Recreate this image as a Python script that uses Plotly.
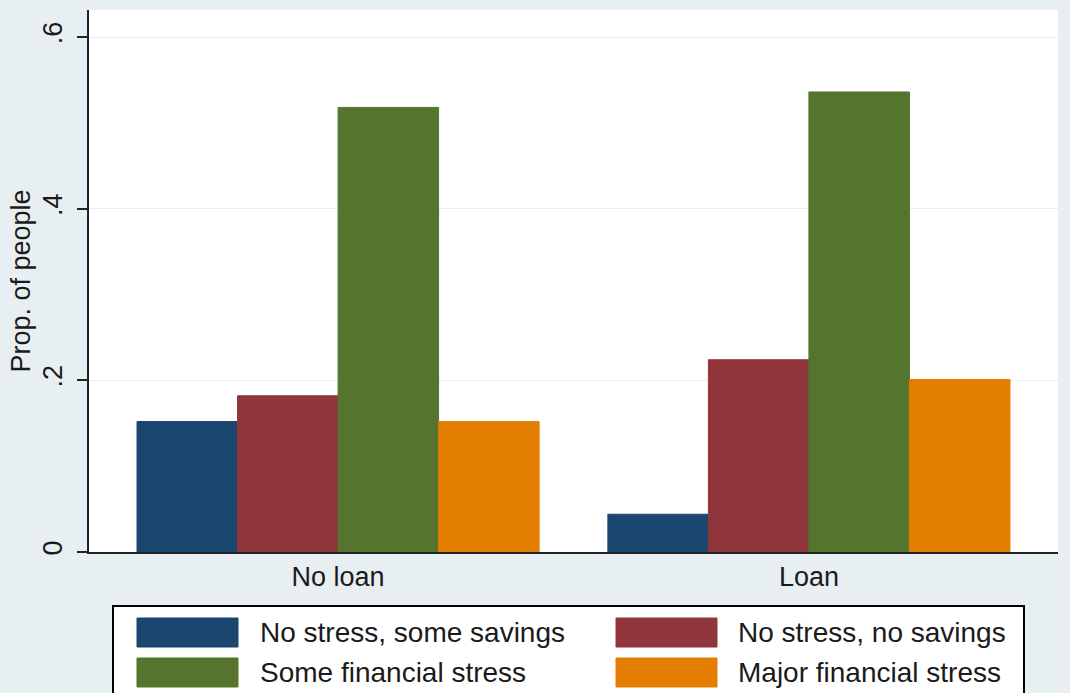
import plotly.graph_objects as go

categories = ["No loan", "Loan"]
series_names = ["No stress, some savings", "No stress, no savings",
                "Some financial stress", "Major financial stress"]
no_stress_some_savings = [0.152, 0.044]
no_stress_no_savings = [0.182, 0.224]
some_financial_stress = [0.518, 0.536]
major_financial_stress = [0.152, 0.201]
series_values = [no_stress_some_savings, no_stress_no_savings,
                 some_financial_stress, major_financial_stress]
colors = ["#1a476f", "#90353b", "#55752f", "#e37e00"]
y_tickvals = [0, 0.2, 0.4, 0.6]
y_ticktext = ["0", ".2", ".4", ".6"]

W, H = 1070, 693
L, R, T, B = 89, 12, 10, 141
PW, PH = W - L - R, H - T - B
FONT = "Liberation Sans, Arial, sans-serif"
BG = "#e8eff2"


def px_x(x):
    return (x - L) / PW


def px_y(y):
    return (H - B - y) / PH


fig = go.Figure()
for name, vals, c in zip(series_names, series_values, colors):
    fig.add_trace(go.Bar(x=categories, y=vals, name=name,
                         marker=dict(color=c, line=dict(color=c, width=1)),
                         showlegend=False))

shapes = []
annotations = []
# legend box
shapes.append(dict(type="rect", xref="paper", yref="paper",
                   x0=px_x(113), x1=px_x(1024), y0=px_y(705), y1=px_y(606),
                   fillcolor="white", line=dict(color="black", width=2), layer="above"))
sw_x = [137, 616]
tx_x = [258, 736]
rows = [(618, 647), (658, 687)]
for i, (name, c) in enumerate(zip(series_names, colors)):
    col = i % 2
    row = i // 2
    y0, y1 = rows[row]
    shapes.append(dict(type="rect", xref="paper", yref="paper",
                       x0=px_x(sw_x[col]), x1=px_x(sw_x[col] + 101),
                       y0=px_y(y1), y1=px_y(y0),
                       fillcolor=c, line=dict(color=c, width=1), layer="above"))
    annotations.append(dict(xref="paper", yref="paper",
                            x=px_x(tx_x[col]), y=px_y((y0 + y1) / 2),
                            text=name, showarrow=False, xanchor="left", yanchor="middle",
                            font=dict(family=FONT, size=28, color="#1a1a1a")))

fig.update_layout(
    width=W, height=H,
    margin=dict(l=L, r=R, t=T, b=B),
    paper_bgcolor=BG, plot_bgcolor="white",
    barmode="group", bargap=0.146, bargroupgap=0,
    font=dict(family=FONT, size=27, color="#1a1a1a"),
    shapes=shapes, annotations=annotations,
    xaxis=dict(showgrid=False, showline=True, linecolor="#222222", linewidth=2,
               ticks="", tickfont=dict(size=27), range=[-0.529, 1.529]),
    yaxis=dict(range=[0, 0.6315], tickvals=y_tickvals, ticktext=y_ticktext,
               tickangle=-90, ticks="outside", ticklen=10, tickwidth=2,
               tickcolor="#222222", showline=True, linecolor="#222222", linewidth=2,
               showgrid=True, gridcolor="#e6eef0", gridwidth=1, zeroline=False,
               tickfont=dict(size=27), ticklabelstandoff=4,
               title=dict(text="Prop. of people", font=dict(size=27), standoff=0)),
)

fig.write_html("out.html", config={"displayModeBar": False},
               post_script="document.body.style.margin='0';document.body.style.overflow='hidden';document.body.style.background='%s';" % BG)
